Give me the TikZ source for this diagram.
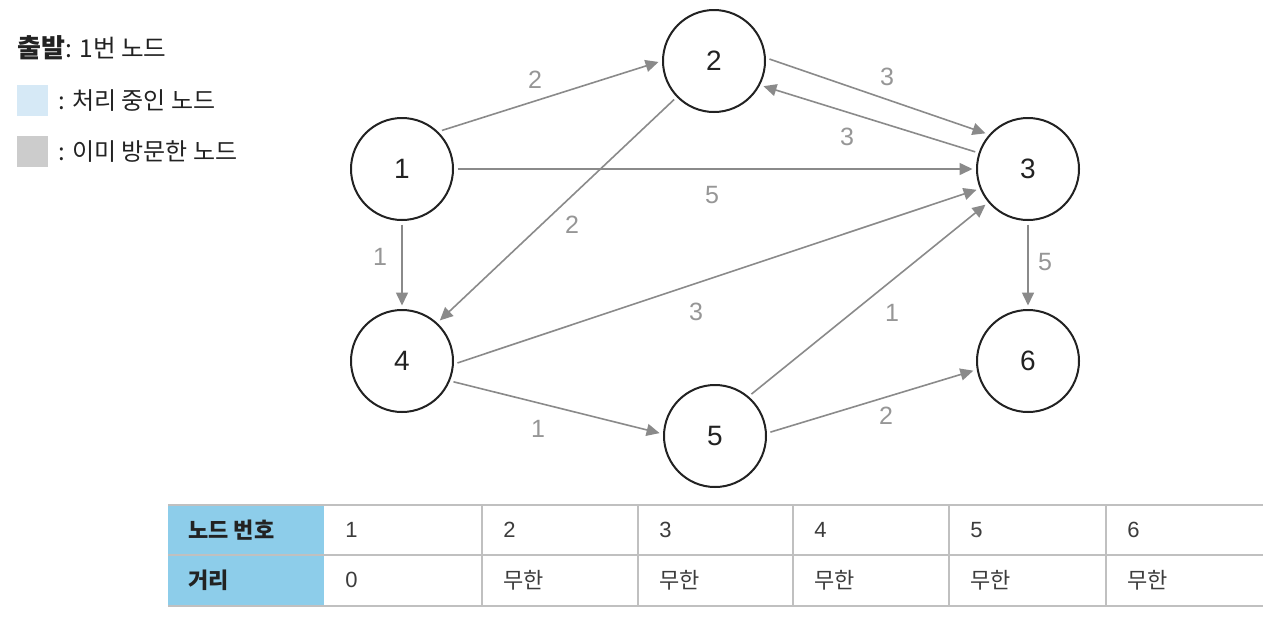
\documentclass[tikz,border=0pt]{standalone}
\usepackage{fontspec}
\setmainfont{Liberation Sans}
\newfontfamily\kr{Noto Sans CJK KR}
\usetikzlibrary{arrows.meta}
\definecolor{edgegray}{RGB}{138,138,138}
\definecolor{labgray}{RGB}{150,150,150}
\definecolor{hdrblue}{RGB}{141,205,234}
\definecolor{lgblue}{RGB}{214,233,246}
\definecolor{lggray}{RGB}{204,204,204}
\definecolor{tblline}{RGB}{192,192,192}
\definecolor{ink}{RGB}{34,34,34}
\definecolor{celltext}{RGB}{60,60,60}
\begin{document}
\begin{tikzpicture}[x=0.5pt,y=-0.5pt,
  vert/.style={circle, draw=ink, line width=1pt, minimum size=51pt, inner sep=0pt, outer sep=2.25pt, font=\fontsize{14}{16}\selectfont, text=ink},
  edge/.style={draw=edgegray, line width=0.8pt, -{Triangle[length=6.5pt,width=6pt]}},
  wlab/.style={text=labgray, font=\fontsize{12.5}{15}\selectfont, inner sep=0pt},
  legtext/.style={anchor=west, inner sep=0pt, text=ink, font=\kr\fontsize{12}{14}\selectfont},
  hdrtext/.style={anchor=west, inner sep=0pt, text=ink, font=\kr\bfseries\fontsize{11}{13}\selectfont},
  celltxt/.style={anchor=west, inner sep=0pt, text=celltext, font=\fontsize{11}{13}\selectfont},
  cellkr/.style={anchor=west, inner sep=0pt, text=celltext, font=\kr\fontsize{11}{13}\selectfont},
  swatch/.style={draw=none, minimum size=15.5pt, inner sep=0pt}
]
\useasboundingbox (0,0) rectangle (1280,622);
\fill[white] (0,0) rectangle (1280,622);

% legend
\node[anchor=west, inner sep=0pt, text=ink] (start) at (17,48)
  {\kr\fontsize{13}{15}\selectfont\bfseries 출발\mdseries\fontsize{12.3}{14}\selectfont: 1번 노드};
\node[swatch, fill=lgblue] (sw1) at (32.5,100.5) {};
\node[legtext] (lg1) at (58,101) {: 처리 중인 노드};
\node[swatch, fill=lggray] (sw2) at (32.5,151.5) {};
\node[legtext] (lg2) at (58,152) {: 이미 방문한 노드};

% vertices
\node[vert] (n1) at (402,169) {1};
\node[vert] (n2) at (714,61) {2};
\node[vert] (n3) at (1028,169) {3};
\node[vert] (n4) at (402,361) {4};
\node[vert] (n5) at (715,436) {5};
\node[vert] (n6) at (1028,361) {6};

% edges
\draw[edge] (n1.44) -- (n2.181);
\draw[edge] (n1.0) -- (n3.180);
\draw[edge] (n1.-90) -- (n4.90);
\draw[edge] (n2.224) -- (n4.47);
\draw[edge] (n2.2) -- (n3.140);
\draw[edge] (n3.162) -- (n2.333);
\draw[edge] (n4.-2) -- (n3.202);
\draw[edge] (n3.-90) -- (n6.90);
\draw[edge] (n4.-22) -- (n5.177);
\draw[edge] (n5.49) -- (n3.220);
\draw[edge] (n5.4) -- (n6.190);

% weights
\node[wlab] (w12) at (535,80) {2};
\node[wlab] (w13) at (712,195) {5};
\node[wlab] (w14) at (380,257) {1};
\node[wlab] (w24) at (572,225) {2};
\node[wlab] (w23) at (887,77) {3};
\node[wlab] (w32) at (847,137) {3};
\node[wlab] (w43) at (696,312) {3};
\node[wlab] (w36) at (1045,262) {5};
\node[wlab] (w45) at (538,429) {1};
\node[wlab] (w53) at (892,313) {1};
\node[wlab] (w56) at (886,416) {2};

% table
\fill[hdrblue] (168,505) rectangle (324,606);
\draw[tblline, line width=1pt] (168,505) -- (1263,505);
\draw[tblline, line width=1pt] (168,555) -- (1263,555);
\draw[tblline, line width=1pt] (168,606) -- (1263,606);
\foreach \x in {482,638,793,949,1106}
  \draw[tblline, line width=1pt] (\x,505) -- (\x,606);
\node[hdrtext] (h1) at (188,530) {노드 번호};
\node[hdrtext] (h2) at (188,580) {거리};
\foreach \x/\n [count=\i] in {345/1,503/2,659/3,814/4,970/5,1127/6} {
  \node[celltxt] (c\i) at (\x,530) {\n};
}
\node[celltxt] (d1) at (345,580) {0};
\foreach \x [count=\i from 2] in {503,659,814,970,1127} {
  \node[cellkr] (d\i) at (\x,580) {무한};
}
\end{tikzpicture}
\end{document}
